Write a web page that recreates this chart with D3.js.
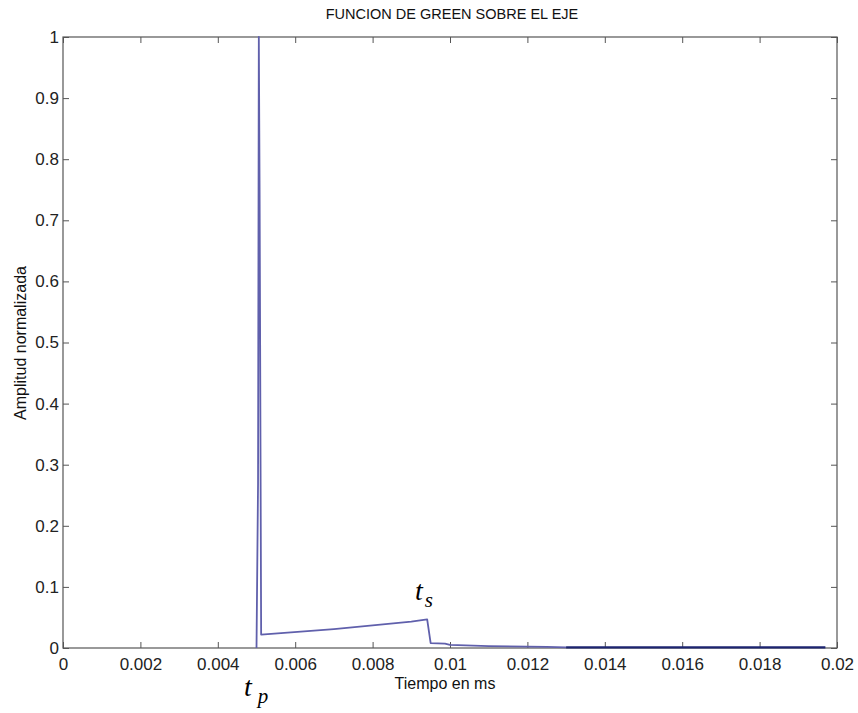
<!DOCTYPE html>
<html lang="es">
<head>
<meta charset="UTF-8">
<title>Funcion de Green sobre el eje</title>
<script src="https://d3js.org/d3.v7.min.js"></script>
<style>
  body { margin: 0; background: #fff; }
  svg { display: block; font-family: Arial, "Liberation Sans", sans-serif; }
  .tick-label { font-size: 17px; fill: #222; }
  .axis-label { font-size: 16px; fill: #111; }
  .title { font-size: 14.5px; fill: #111; }
  .ann { font-family: "Times New Roman", "Liberation Serif", serif; font-style: italic; fill: #000; }
</style>
</head>
<body>
<svg id="chart" width="858" height="713"></svg>
<script>
// time (ms) and normalized amplitude
const timeMain = [0.00500, 0.00504, 0.00506, 0.00508, 0.00512, 0.00700, 0.00900, 0.00941, 0.00950, 0.00987, 0.01000, 0.01100, 0.01250, 0.01300];
const ampMain  = [0.000,   0.270,   1.000,   0.750,   0.022,   0.031,   0.043,   0.047,   0.008,   0.007,   0.005,   0.003,   0.002,   0.001];
const timeTail = [0.01300, 0.01970];
const ampTail  = [0.001,   0.001];

const xTicks = [0, 0.002, 0.004, 0.006, 0.008, 0.01, 0.012, 0.014, 0.016, 0.018, 0.02];
const yTicks = [0, 0.1, 0.2, 0.3, 0.4, 0.5, 0.6, 0.7, 0.8, 0.9, 1];

const plot = { left: 63, right: 837, top: 37, bottom: 648 };
const svg = d3.select("#chart");

const x = d3.scaleLinear().domain([0, 0.02]).range([plot.left, plot.right]);
const y = d3.scaleLinear().domain([0, 1]).range([plot.bottom, plot.top]);

// frame
svg.append("rect")
   .attr("x", plot.left).attr("y", plot.top)
   .attr("width", plot.right - plot.left).attr("height", plot.bottom - plot.top)
   .attr("fill", "#fff").attr("stroke", "#555").attr("stroke-width", 1.2);

const tickLen = 6;
// x ticks (bottom and top, inward)
svg.append("g").attr("transform", `translate(0,${plot.bottom})`)
   .call(d3.axisBottom(x).tickValues(xTicks).tickSize(-tickLen).tickPadding(10).tickFormat(d => String(+d.toFixed(3))))
   .call(g => g.select(".domain").remove())
   .call(g => g.selectAll("line").attr("stroke", "#555"))
   .call(g => g.selectAll("text").attr("class", "tick-label").attr("font-size", null).attr("font-family", null));
svg.append("g").attr("transform", `translate(0,${plot.top})`)
   .call(d3.axisTop(x).tickValues(xTicks).tickSize(-tickLen).tickFormat(""))
   .call(g => g.select(".domain").remove())
   .call(g => g.selectAll("line").attr("stroke", "#555"));

// y ticks (left and right, inward)
svg.append("g").attr("transform", `translate(${plot.left},0)`)
   .call(d3.axisLeft(y).tickValues(yTicks).tickSize(-tickLen).tickPadding(4).tickFormat(d => String(+d.toFixed(1))))
   .call(g => g.select(".domain").remove())
   .call(g => g.selectAll("line").attr("stroke", "#555"))
   .call(g => g.selectAll("text").attr("class", "tick-label").attr("font-size", null).attr("font-family", null));
svg.append("g").attr("transform", `translate(${plot.right},0)`)
   .call(d3.axisRight(y).tickValues(yTicks).tickSize(-tickLen).tickFormat(""))
   .call(g => g.select(".domain").remove())
   .call(g => g.selectAll("line").attr("stroke", "#555"));

// data lines
const line = d3.line().x(d => x(d[0])).y(d => y(d[1]));
svg.append("path")
   .datum(d3.zip(timeMain, ampMain))
   .attr("d", line)
   .attr("fill", "none")
   .attr("stroke", "#6060ac")
   .attr("stroke-width", 1.8)
   .attr("stroke-linejoin", "round");
svg.append("path")
   .datum(d3.zip(timeTail, ampTail))
   .attr("d", line)
   .attr("fill", "none")
   .attr("stroke", "#1c2470")
   .attr("stroke-width", 2.4);

// labels
svg.append("text").attr("class", "title")
   .attr("x", 452).attr("y", 19).attr("text-anchor", "middle")
   .text("FUNCION DE GREEN SOBRE EL EJE");
svg.append("text").attr("class", "axis-label")
   .attr("x", 445).attr("y", 689).attr("text-anchor", "middle")
   .text("Tiempo en ms");
svg.append("text").attr("class", "axis-label")
   .attr("transform", "translate(26,343) rotate(-90)").attr("text-anchor", "middle")
   .text("Amplitud normalizada");

// annotations t_p and t_s
const ts = svg.append("text").attr("class", "ann").attr("x", 415).attr("y", 600);
ts.append("tspan").attr("font-size", 28).text("t");
ts.append("tspan").attr("font-size", 21).attr("dx", 2).attr("dy", 7).text("s");
const tp = svg.append("text").attr("class", "ann").attr("x", 244).attr("y", 696);
tp.append("tspan").attr("font-size", 28).text("t");
tp.append("tspan").attr("font-size", 21).attr("dx", 6).attr("dy", 7).text("p");
</script>
</body>
</html>
